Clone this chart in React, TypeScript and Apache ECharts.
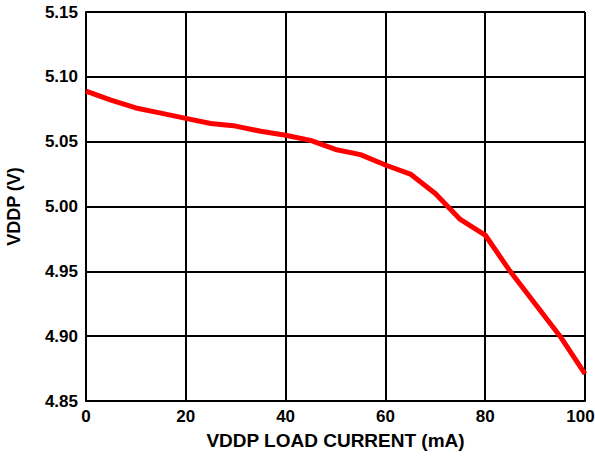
import React, { useEffect, useRef } from "react";
import * as echarts from "echarts";

const loadCurrent = [0, 5, 10, 15, 20, 25, 30, 35, 40, 45, 50, 55, 60, 65, 70, 75, 80, 85, 90, 95, 100];
const vddp = [5.089, 5.082, 5.076, 5.072, 5.068, 5.064, 5.062, 5.058, 5.055, 5.051, 5.044, 5.04, 5.032, 5.025, 5.01, 4.99, 4.978, 4.95, 4.925, 4.9, 4.871];
const xTicks = [0, 20, 40, 60, 80, 100];
const yTicks = [4.85, 4.9, 4.95, 5.0, 5.05, 5.1, 5.15];

export default function App() {
  const ref = useRef<HTMLDivElement>(null);
  useEffect(() => {
    document.body.style.margin = "0";
    const chart = echarts.init(ref.current!, null, { renderer: "svg" });
    const font = "'Liberation Sans', Arial, sans-serif";
    const xMax = xTicks[xTicks.length - 1];
    chart.setOption({
      animation: false,
      backgroundColor: "#ffffff",
      grid: { left: 86, top: 12, right: 10, bottom: 57, containLabel: false, outerBoundsMode: "none" },
      xAxis: {
        type: "value",
        min: xTicks[0],
        max: xMax,
        interval: 20,
        name: "VDDP LOAD CURRENT (mA)",
        nameLocation: "middle",
        nameGap: 30,
        nameTextStyle: { fontFamily: font, fontWeight: "bold", fontSize: 19, color: "#000" },
        axisLine: { show: true, lineStyle: { color: "#000", width: 2 } },
        axisTick: { show: false },
        axisLabel: {
          color: "#000",
          fontFamily: font,
          fontWeight: "bold",
          fontSize: 17,
          margin: 7,
          hideOverlap: false,
          formatter: (v: number) => (v === xMax ? "{last|" + v + "}" : String(v)),
          rich: {
            last: { color: "#000", fontFamily: font, fontWeight: "bold", fontSize: 17, padding: [0, 9, 0, 0] },
          },
        },
        splitLine: { show: true, lineStyle: { color: "#000", width: 2 } },
      },
      yAxis: {
        type: "value",
        min: yTicks[0],
        max: yTicks[yTicks.length - 1],
        interval: 0.05,
        name: "VDDP (V)",
        nameLocation: "middle",
        nameGap: 63,
        nameTextStyle: { fontFamily: font, fontWeight: "bold", fontSize: 18, color: "#000" },
        axisLine: { show: true, lineStyle: { color: "#000", width: 2 } },
        axisTick: { show: false },
        axisLabel: {
          color: "#000",
          fontFamily: font,
          fontWeight: "bold",
          fontSize: 17,
          margin: 8,
          formatter: (v: number) => v.toFixed(2),
        },
        splitLine: { show: true, lineStyle: { color: "#000", width: 2 } },
      },
      series: [
        {
          type: "line",
          data: loadCurrent.map((x, i) => [x, vddp[i]]),
          showSymbol: false,
          lineStyle: { color: "#ff0000", width: 5 },
          clip: false,
        },
      ],
    });
    return () => chart.dispose();
  }, []);
  return <div ref={ref} style={{ width: 595, height: 458 }} />;
}
